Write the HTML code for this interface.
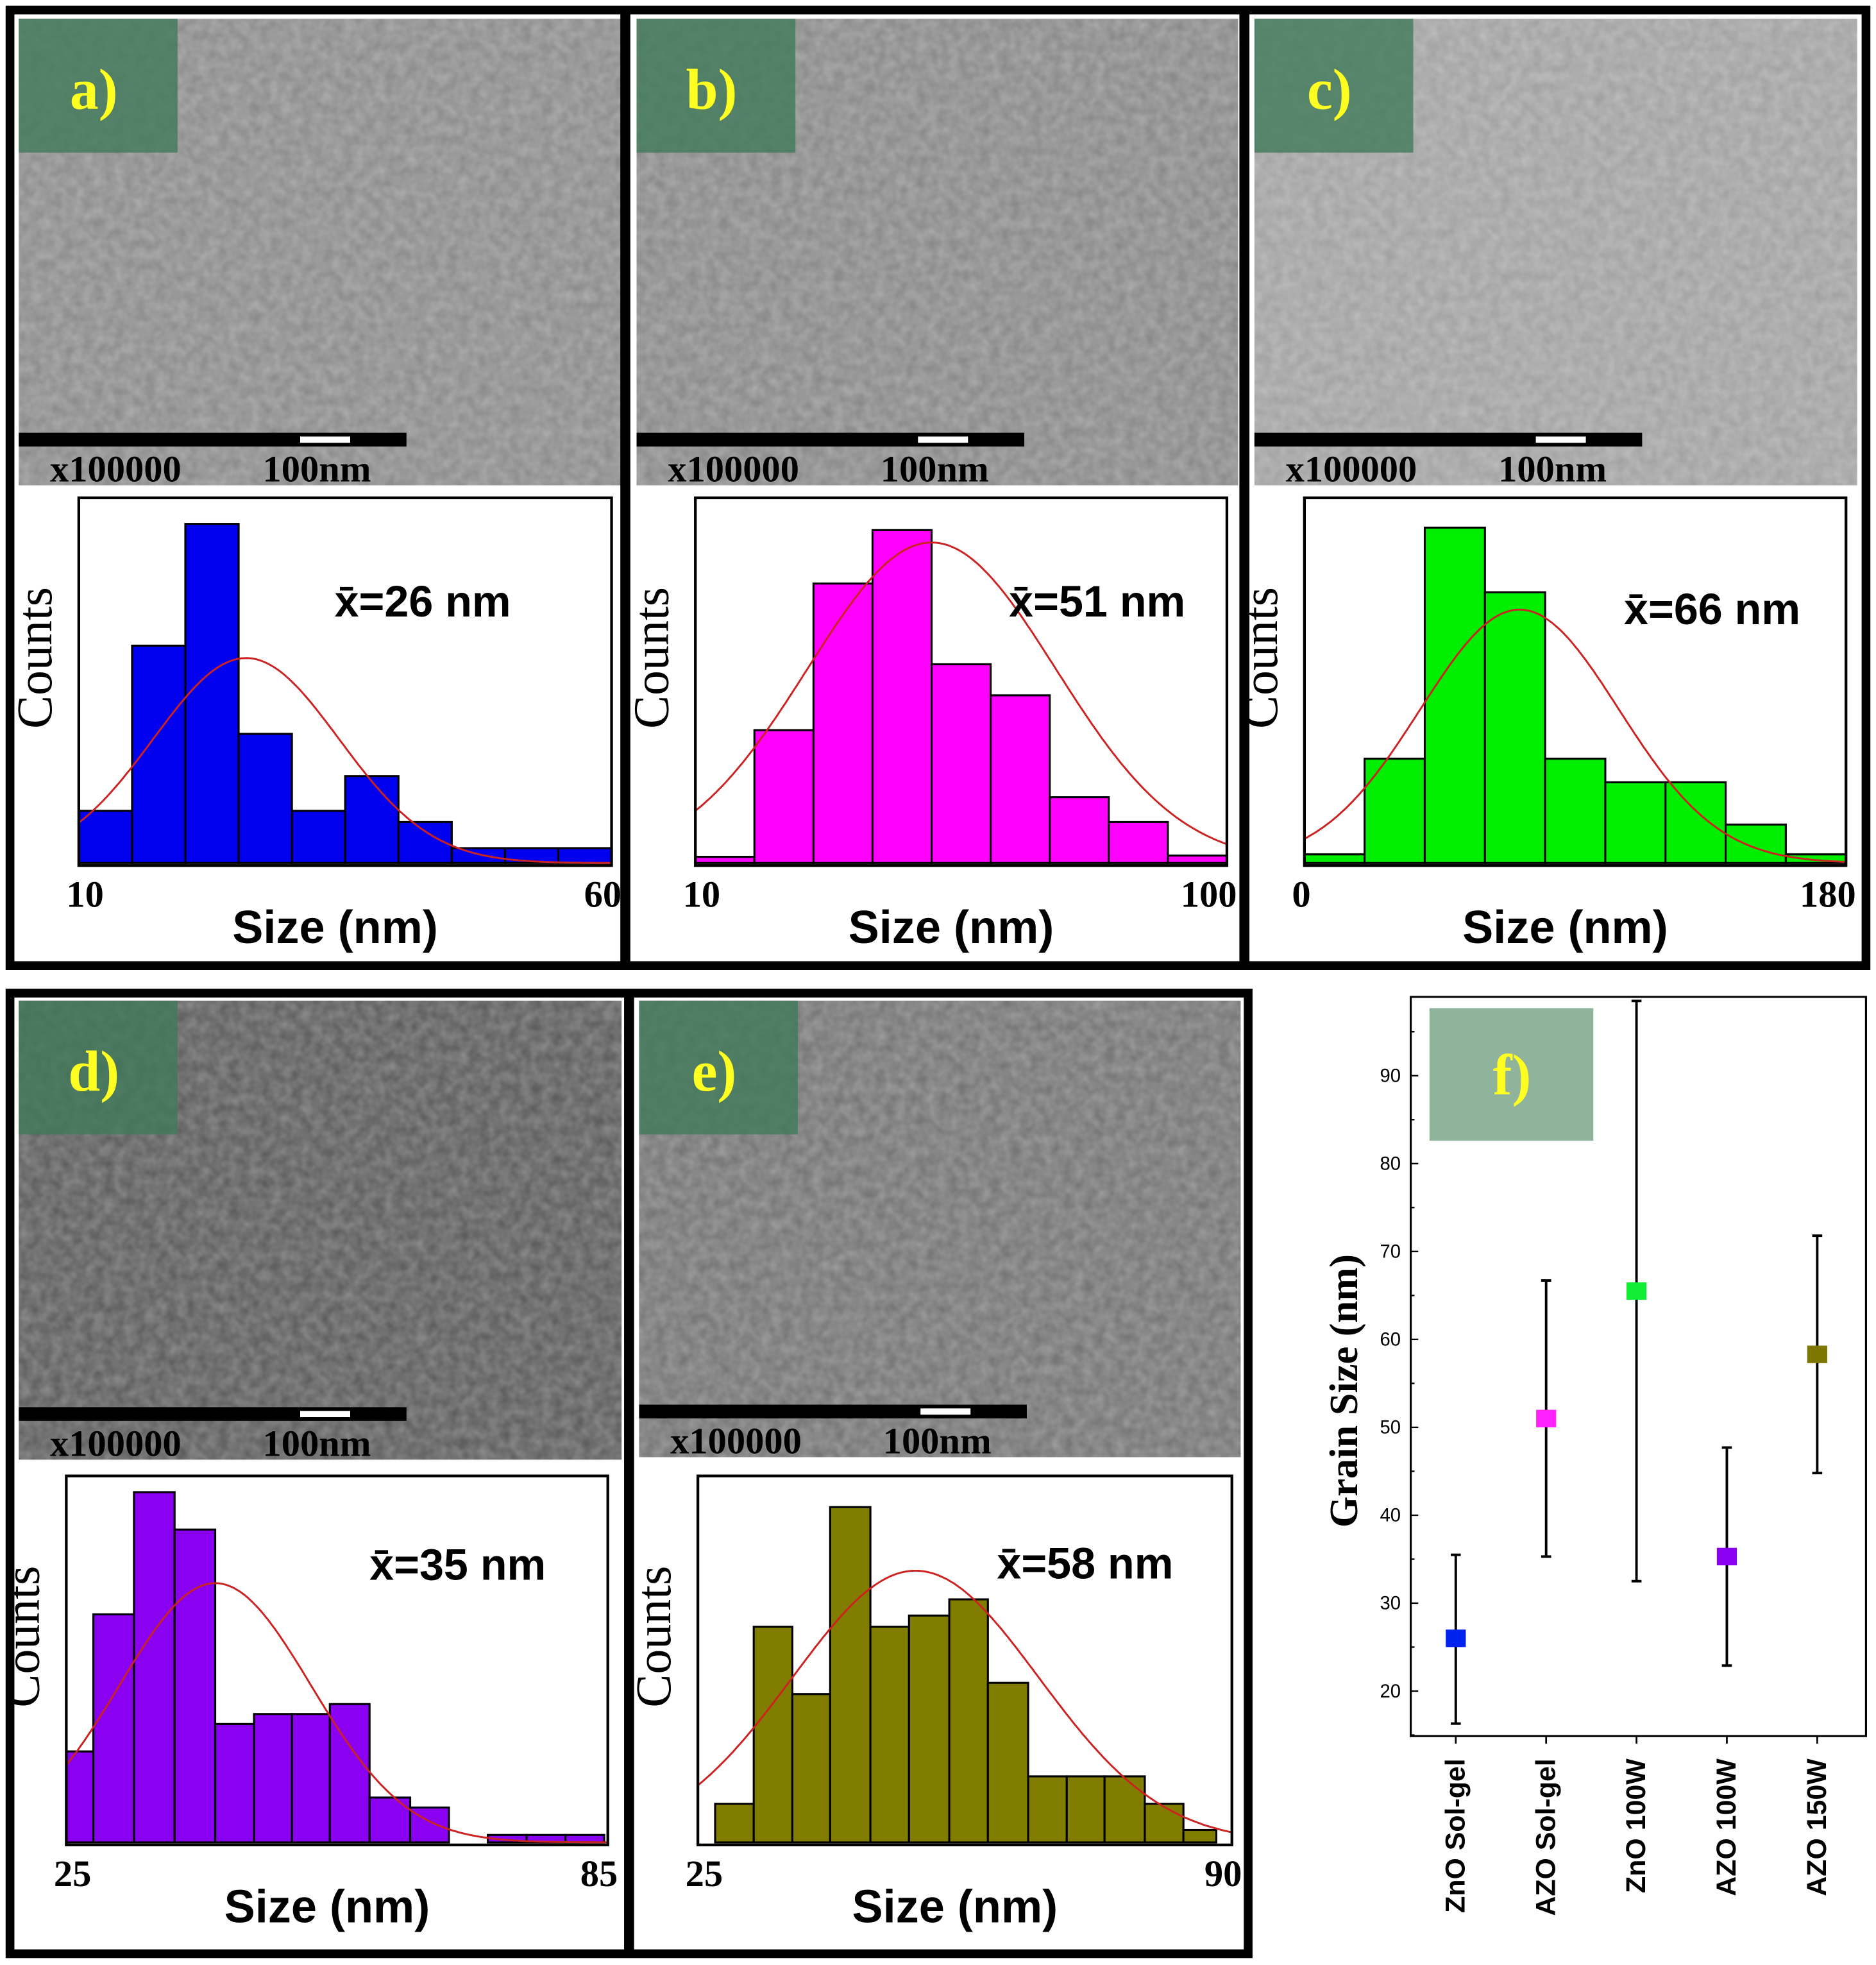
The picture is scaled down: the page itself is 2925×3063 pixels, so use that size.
<!DOCTYPE html>
<html><head><meta charset="utf-8">
<style>
html,body{margin:0;padding:0;background:#fff;}
svg{display:block;}
</style></head>
<body>
<svg id="fig" xmlns="http://www.w3.org/2000/svg" width="2925" height="3063" viewBox="0 0 1500 1571" preserveAspectRatio="none">
<defs>
<filter id="grain" x="0" y="0" width="100%" height="100%">
<feTurbulence type="fractalNoise" baseFrequency="0.12" numOctaves="2" seed="3"/>
<feColorMatrix type="matrix" values="0 0 0 0 1  0 0 0 0 1  0 0 0 0 1  0 0 0 0.35 -0.05"/>
</filter>
</defs>
<g id="root"></g>
</svg>
<script>
// ---------- DATA ----------
var panelLabels = ["a)","b)","c)","d)","e)"];
var meanLabels = ["26","51","66","35","58"];
var xMinLabels = ["10","10","0","25","25"];
var xMaxLabels = ["60","100","180","85","90"];
var xMinVals = [10,10,0,25,25];
var xMaxVals = [60,100,180,85,90];
var barColors = ["#0000ee","#ff00ff","#00ee00","#8a00f0","#807d00"];
// histogram bin edges (nm) and counts
var edgesA = [10,15,20,25,30,35,40,45,50,55,60];
var countsA = [4.2,17.5,27.3,10.4,4.2,7.0,3.3,1.2,1.2,1.2];
var edgesB = [10,20,30,40,50,60,70,80,90,100];
var countsB = [0.5,10.7,22.5,26.8,16.0,13.5,5.3,3.3,0.6];
var edgesC = [0,20,40,60,80,100,120,140,160,180];
var countsC = [0.7,8.4,27.0,21.8,8.4,6.5,6.5,3.1,0.7];
var edgesD = [25,28,32.5,37,41.5,45.8,50,54.2,58.6,63.1,67.4,71.7,76,80.3,84.6];
var countsD = [7.3,18.3,28.1,25.1,9.5,10.3,10.3,11.1,3.6,2.8,0,0.6,0.6,0.6];
var edgesE = [27.1,31.8,36.5,41.1,46,50.7,55.6,60.3,65.2,69.9,74.5,79.4,84.1,88.1];
var countsE = [3.1,17.3,11.9,26.9,17.3,18.2,19.5,12.8,5.3,5.3,5.3,3.1,1.0];
// gaussian fit parameters: amplitude (counts), mean (nm), sigma (nm)
var fitAmp = [16.5,25.8,20.4,20.8,21.8];
var fitMean = [25.7,50,71.5,41.5,51.5];
var fitSigma = [8.7,21,33,10.6,15];
// panel f
var categories = ["ZnO Sol-gel","AZO Sol-gel","ZnO 100W","AZO 100W","AZO 150W"];
var grainMean = [26,51,65.5,35.3,58.3];
var grainLow = [16.3,35.3,32.5,22.9,44.8];
var grainHigh = [35.5,66.7,98.5,47.7,71.8];
var grainColors = ["#0022ee","#ff22ff","#11ee33","#8a00f0","#7d7700"];
var yTicks = [20,30,40,50,60,70,80,90];

var allEdges=[edgesA,edgesB,edgesC,edgesD,edgesE];
var allCounts=[countsA,countsB,countsC,countsD,countsE];
// ---------- LAYOUT ----------
var NS="http://www.w3.org/2000/svg";
var root=document.getElementById('root');
function mk(tag,attrs,parent){var e=document.createElementNS(NS,tag);for(var k in attrs)e.setAttribute(k,attrs[k]);(parent||root).appendChild(e);return e;}
function txt(s,attrs,parent){var e=mk('text',attrs,parent);e.textContent=s;return e;}

var panels=[
 {x0:15,x1:497,semTop:15,semBot:388,box:[63,398,489,692],semCol:"#8c8c8c",mFrac:0.48,mOff:95},
 {x0:509,x1:990,semTop:15,semBot:388,box:[556,398,981,692],semCol:"#8a8a8a",mFrac:0.59,mOff:95},
 {x0:1003,x1:1485,semTop:15,semBot:388,box:[1043,398,1476,692],semCol:"#a2a2a2",mFrac:0.59,mOff:101},
 {x0:15,x1:497,semTop:800,semBot:1167,box:[53,1180,486,1475],semCol:"#5e5e5e",mFrac:0.56,mOff:83},
 {x0:511,x1:992,semTop:800,semBot:1165,box:[558,1180,985,1475],semCol:"#767676",mFrac:0.56,mOff:82}
];

var f1=mk('rect',{x:8,y:8,width:1484,height:764,fill:'#fff',stroke:'#000','stroke-width':7});


var f2=mk('rect',{x:8,y:794,width:990,height:768,fill:'#fff',stroke:'#000','stroke-width':7});



panels.forEach(function(p,i){
  var g=mk('g',{});
  
  
  var sem=mk('rect',{x:p.x0,y:p.semTop,width:p.x1-p.x0,height:p.semBot-p.semTop,fill:p.semCol},g);
  
  
  var tex=mk('rect',{x:p.x0,y:p.semTop,width:p.x1-p.x0,height:p.semBot-p.semTop,fill:'#000',filter:'url(#grain)'},g);
  
  
  var lb=mk('rect',{x:p.x0,y:p.semTop,width:127,height:107,fill:'#3f7a5a','fill-opacity':0.78},g);
  
  
  var lt=txt(panelLabels[i],{x:p.x0+60,y:p.semTop+72,'font-family':'Liberation Serif, serif','font-weight':'bold','font-size':46,fill:'#ffff22','text-anchor':'middle'},g);
  
  
  var sb=mk('rect',{x:p.x0,y:p.semBot-42,width:310,height:11,fill:'#000'},g);
  
  
  var sw=mk('rect',{x:p.x0+225,y:p.semBot-39,width:40,height:5,fill:'#fff'},g);
  
  
  var m1=txt('x100000',{x:p.x0+25,y:p.semBot-3,'font-family':'Liberation Serif, serif','font-weight':'bold','font-size':30,fill:'#000'},g);
  
  
  var m2=txt('100nm',{x:p.x0+195,y:p.semBot-3,'font-family':'Liberation Serif, serif','font-weight':'bold','font-size':30,fill:'#000'},g);
  
  

  var b=p.box, L=b[0],T=b[1],R=b[2],B=b[3]-2;
  var yMax=29.4;
  function xs(v){return L+(v-xMinVals[i])/(xMaxVals[i]-xMinVals[i])*(R-L);}
  function ys(c){return B-c/yMax*(B-T);}
  var edges=allEdges[i],counts=allCounts[i];
  counts.forEach(function(c,k){
    if(c<=0)return;
    var r=mk('rect',{x:xs(edges[k]),y:ys(c),width:xs(edges[k+1])-xs(edges[k]),height:B-ys(c),fill:barColors[i],stroke:'#000','stroke-width':1.6},g);
    
    
  });
  var d='';
  for(var s=0;s<=200;s++){var v=xMinVals[i]+(xMaxVals[i]-xMinVals[i])*s/200;var c=fitAmp[i]*Math.exp(-0.5*Math.pow((v-fitMean[i])/fitSigma[i],2));d+=(s?'L':'M')+xs(v).toFixed(1)+' '+ys(c).toFixed(1);}
  var fit=mk('path',{d:d,fill:'none',stroke:'#cc2222','stroke-width':1.5},g);
  
  
  var box=mk('rect',{x:L,y:T,width:R-L,height:b[3]-T,fill:'none',stroke:'#000','stroke-width':2.2},g);
  
  
  var ct=txt('Counts',{x:0,y:0,transform:'translate('+(L-22)+','+((T+B)/2-18)+') rotate(-90)','font-family':'Liberation Serif, serif','font-size':40,fill:'#000','text-anchor':'middle'},g);
  
  
  var mx=L+(R-L)*p.mFrac;
  var mt=txt('x\u0304='+meanLabels[i]+' nm',{x:mx,y:T+p.mOff,'font-family':'Liberation Sans, sans-serif','font-weight':'bold','font-size':35,fill:'#000'},g);
  
  
  var t0=txt(xMinLabels[i],{x:L-10,y:b[3]+33,'font-family':'Liberation Serif, serif','font-weight':'bold','font-size':30,fill:'#000'},g);
  
  
  var t1=txt(xMaxLabels[i],{x:R+8,y:b[3]+33,'font-family':'Liberation Serif, serif','font-weight':'bold','font-size':30,fill:'#000','text-anchor':'end'},g);
  
  
  var xt=txt('Size (nm)',{x:(L+R)/2-8,y:b[3]+62,'font-family':'Liberation Sans, sans-serif','font-weight':'bold','font-size':37,fill:'#000','text-anchor':'middle'},g);
  
  
});
[[500,8,500,772],[995,8,995,772],[503,794,503,1562]].forEach(function(l){
  var e=mk('line',{x1:l[0],y1:l[1],x2:l[2],y2:l[3],stroke:'#000','stroke-width':8});
  
  
});

// ---------- PANEL F ----------
var gf=mk('g',{});


var AL=1128,AR=1492,AT=797,AB=1388;
function fy(v){return 1352-(v-20)*(1352-860)/70;}
function fx(k){return 1164+k*72.25;}
var fb=mk('rect',{x:1143,y:806,width:131,height:106,fill:'#8fb39b'},gf);


var fl=txt('f)',{x:1209,y:875,'font-family':'Liberation Serif, serif','font-weight':'bold','font-size':46,fill:'#ffff22','text-anchor':'middle'},gf);


var ax=mk('rect',{x:AL,y:AT,width:AR-AL,height:AB-AT,fill:'none',stroke:'#000','stroke-width':1.6},gf);


for(var v=15;v<=95;v+=5){
  var major=(v%10===0);
  var tk=mk('line',{x1:AL,x2:AL+(major?6:3),y1:fy(v),y2:fy(v),stroke:'#000','stroke-width':1.2},gf);
  
  
}
yTicks.forEach(function(v){
  var t=txt(String(v),{x:AL-8,y:fy(v)+5,'font-family':'Liberation Sans, sans-serif','font-size':15,fill:'#000','text-anchor':'end'},gf);
  
  
});
var yt=txt('Grain Size (nm)',{x:0,y:0,transform:'translate(1085,1112) rotate(-90)','font-family':'Liberation Serif, serif','font-weight':'bold','font-size':32,fill:'#000','text-anchor':'middle'},gf);


categories.forEach(function(c,k){
  var x=fx(k);
  var tk=mk('line',{x1:x,x2:x,y1:AB,y2:AB+6,stroke:'#000','stroke-width':1.4},gf);
  
  
  var eb=mk('line',{x1:x,x2:x,y1:fy(grainLow[k]),y2:fy(grainHigh[k]),stroke:'#000','stroke-width':2},gf);
  
  
  [grainLow[k],grainHigh[k]].forEach(function(v){
    var cap=mk('line',{x1:x-4,x2:x+4,y1:fy(v),y2:fy(v),stroke:'#000','stroke-width':2},gf);
    
    
  });
  var pt=mk('rect',{x:x-8,y:fy(grainMean[k])-7,width:16,height:14,fill:grainColors[k]},gf);
  
  
  var lab=txt(c,{x:0,y:0,transform:'translate('+(x+7)+',1406) rotate(-90)','font-family':'Liberation Sans, sans-serif','font-weight':'bold','font-size':22,fill:'#000','text-anchor':'end'},gf);
  
  
});
</script>
</body></html>
